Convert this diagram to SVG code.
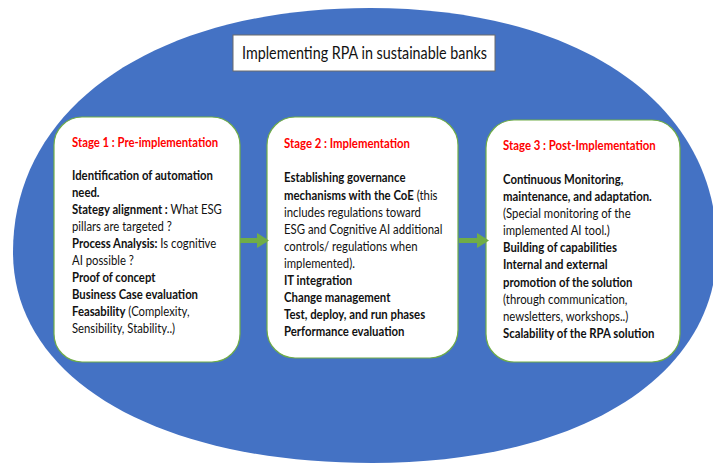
<svg xmlns="http://www.w3.org/2000/svg" width="713" height="464" viewBox="0 0 713 464">
  <style>
    .frame { fill: #4472C4; }
    .card { fill: #FFFFFF; stroke: #70AD47; stroke-width: 1.2; }
    .titlebox { fill: #FFFFFF; stroke: #6B6B6B; stroke-width: 1; }
    .title { font-family: "Lato", "Liberation Sans", sans-serif; font-size: 16.5px; fill: #111111; }
    .head { font-family: "Lato", "Liberation Sans", sans-serif; font-size: 13px; font-weight: bold; fill: #FF0000; }
    .body { font-family: "Lato", "Liberation Sans", sans-serif; font-size: 13px; fill: #111111; }
    .b { font-weight: bold; }
    .link { stroke: #70AD47; stroke-width: 5; fill: none; }
  </style>
  <defs>
    <marker id="arrowhead" markerUnits="userSpaceOnUse" markerWidth="12" markerHeight="15" refX="0" refY="7.5" orient="auto">
      <path d="M0,0 L12,7.5 L0,15 Z" fill="#70AD47"/>
    </marker>
  </defs>

  <rect width="713" height="464" fill="#FFFFFF"/>

  <!-- blue oval backdrop -->
  <g id="backdrop">
    <path class="frame" d="M13,252 C13,106 156,8 370,8 C580,8 717,104 717,248 C717,377 579,463 372,463 C157,463 13,379 13,252 Z"/>
  </g>

  <!-- heading -->
  <g id="title">
    <rect class="titlebox" x="233" y="35" width="262" height="36"/>
    <g transform="translate(242,0) scale(0.868,1)">
      <text class="title" x="0" y="59.5">Implementing RPA in sustainable banks</text>
    </g>
  </g>

  <!-- stage cards; text is set in Lato and narrowed horizontally -->
  <g id="stage1">
    <rect class="card" x="54" y="117" width="186" height="245" rx="28" ry="28"/>
    <g transform="translate(72,0) scale(0.87,1)">
      <text class="head" x="0" y="147">Stage 1 : Pre-implementation</text>
      <g class="body">
        <text x="0" y="180.5" class="b">Identification of automation</text>
        <text x="0" y="197.4" class="b">need.</text>
        <text x="0" y="214.3"><tspan class="b">Stategy alignment :</tspan> What ESG</text>
        <text x="0" y="231.2">pillars are targeted ?</text>
        <text x="0" y="248.1"><tspan class="b">Process Analysis:</tspan> Is cognitive</text>
        <text x="0" y="265">AI possible ?</text>
        <text x="0" y="281.9" class="b">Proof of concept</text>
        <text x="0" y="298.8" class="b">Business Case evaluation</text>
        <text x="0" y="315.7"><tspan class="b">Feasability</tspan> (Complexity,</text>
        <text x="0" y="332.6">Sensibility, Stability..)</text>
      </g>
    </g>
  </g>

  <g id="stage2">
    <rect class="card" x="267" y="117" width="191" height="241" rx="28" ry="28"/>
    <g transform="translate(284,0) scale(0.875,1)">
      <text class="head" x="0" y="148.5">Stage 2 : Implementation</text>
      <g class="body">
        <text x="0" y="182.5" class="b">Establishing governance</text>
        <text x="0" y="199.6"><tspan class="b">mechanisms with the CoE</tspan> (this</text>
        <text x="0" y="216.7">includes regulations toward</text>
        <text x="0" y="233.8">ESG and Cognitive AI additional</text>
        <text x="0" y="250.9">controls/ regulations when</text>
        <text x="0" y="268">implemented).</text>
        <text x="0" y="285.1" class="b">IT integration</text>
        <text x="0" y="302.2" class="b">Change management</text>
        <text x="0" y="319.3" class="b">Test, deploy, and run phases</text>
        <text x="0" y="336.4" class="b">Performance evaluation</text>
      </g>
    </g>
  </g>

  <g id="stage3">
    <rect class="card" x="486" y="120" width="194" height="242" rx="28" ry="28"/>
    <g transform="translate(503,0) scale(0.875,1)">
      <text class="head" x="0" y="150.5">Stage 3 : Post-Implementation</text>
      <g class="body">
        <text x="0" y="184" class="b">Continuous Monitoring,</text>
        <text x="0" y="201.1" class="b">maintenance, and adaptation.</text>
        <text x="0" y="218.2">(Special monitoring of the</text>
        <text x="0" y="235.3">implemented AI tool.)</text>
        <text x="0" y="252.4" class="b">Building of capabilities</text>
        <text x="0" y="269.5" class="b">Internal and external</text>
        <text x="0" y="286.6" class="b">promotion of the solution</text>
        <text x="0" y="303.7">(through communication,</text>
        <text x="0" y="320.8">newsletters, workshops..)</text>
        <text x="0" y="337.9" class="b">Scalability of the RPA solution</text>
      </g>
    </g>
  </g>

  <!-- flow arrows between stages -->
  <g id="connectors">
    <line class="link" x1="240" y1="240.5" x2="257" y2="240.5" marker-end="url(#arrowhead)"/>
    <line class="link" x1="459" y1="240.5" x2="477" y2="240.5" marker-end="url(#arrowhead)"/>
  </g>
</svg>
